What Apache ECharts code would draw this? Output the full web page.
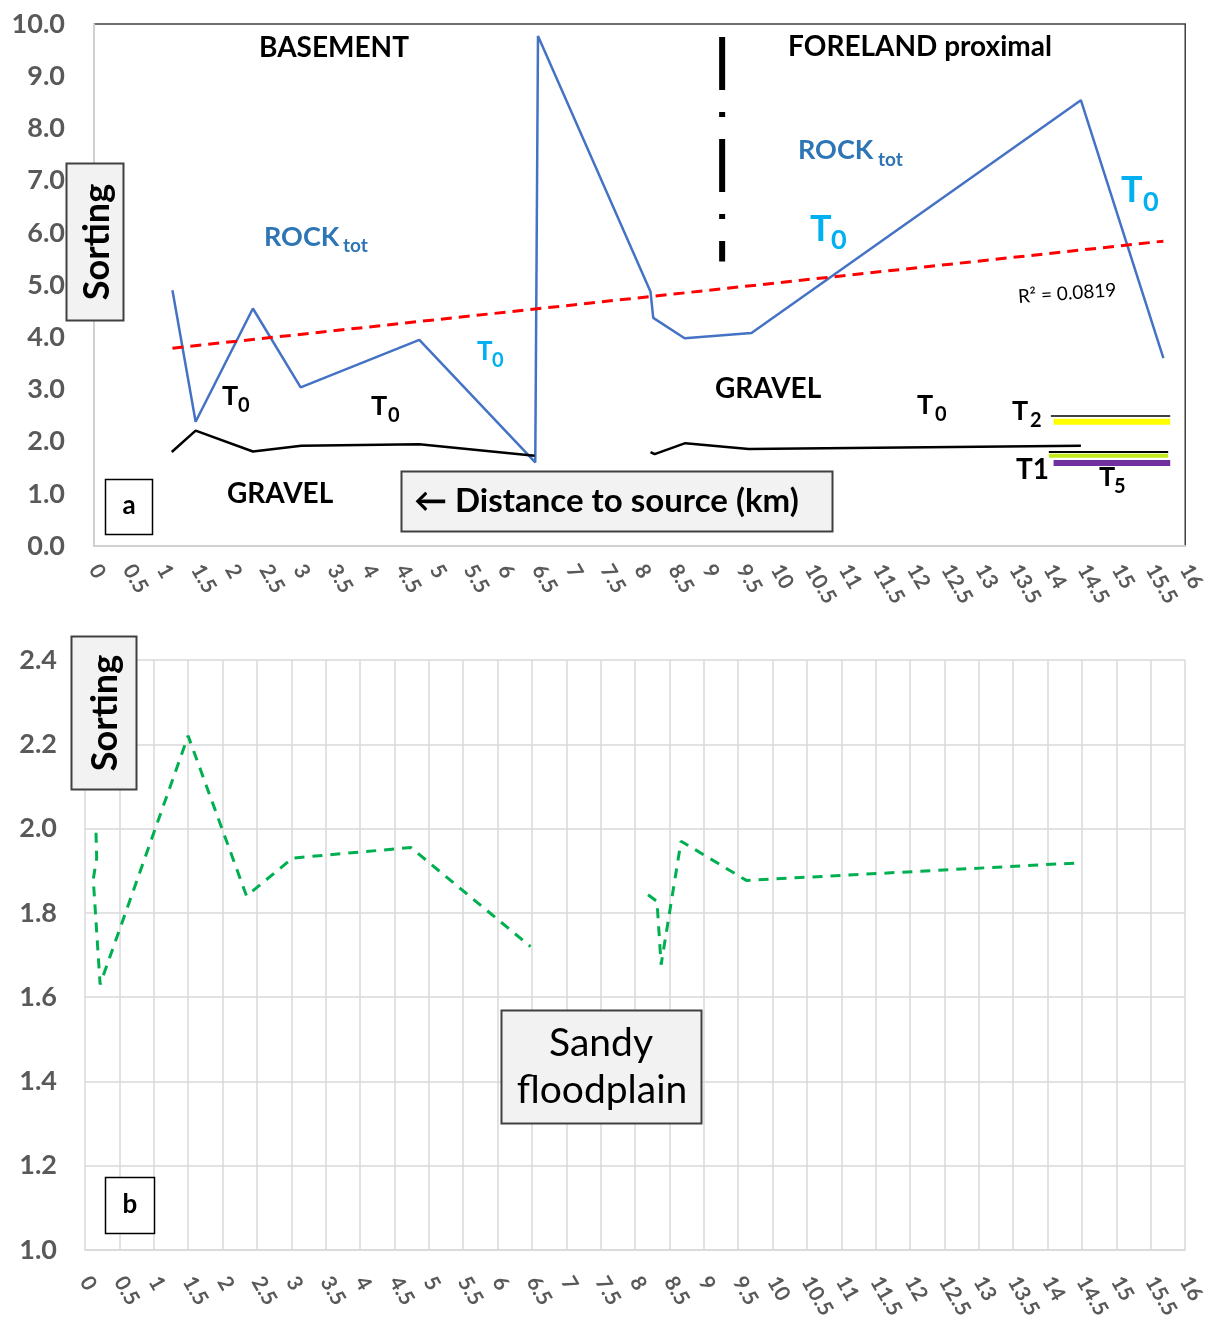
<!DOCTYPE html>
<html>
<head>
<meta charset="utf-8">
<script src="https://cdn.jsdelivr.net/npm/echarts@6/dist/echarts.min.js"></script>
<style>
html,body{margin:0;padding:0;background:#fff;}
#chart{width:1208px;height:1336px;}
</style>
</head>
<body>
<div id="chart"></div>
<script>
// ---------- DATA ----------
// Panel a: ROCK tot sorting (blue line)
const rockX = [1.15, 1.49, 2.33, 3.03, 4.77, 6.47, 6.51, 8.16, 8.20, 8.66, 9.64, 14.47, 15.68];
const rockY = [4.90, 2.38, 4.55, 3.04, 3.95, 1.60, 9.77, 4.87, 4.37, 3.98, 4.08, 8.54, 3.60];
// Panel a: GRAVEL sorting (black line), two segments
const gravelAX = [1.14, 1.49, 2.33, 3.04, 4.77, 6.46];
const gravelAY = [1.80, 2.21, 1.81, 1.92, 1.95, 1.73];
const gravelBX = [8.16, 8.22, 8.67, 9.60, 14.47];
const gravelBY = [1.80, 1.76, 1.97, 1.86, 1.92];
// Panel a: linear trend of ROCK tot (end points)
const trendX = [1.15, 15.68];
const trendY = [3.79, 5.84];
// Panel a: BASEMENT / FORELAND divider
const dividerX = [9.21, 9.21];
const dividerY = [9.75, 5.45];
// Panel a: terrace level bars (T2, T1, T5)
const terraceX0 = [14.03, 14.07, 14.00, 14.00, 14.07];
const terraceX1 = [15.78, 15.78, 15.75, 15.75, 15.78];
const terraceY  = [2.49, 2.38, 1.80, 1.73, 1.59];
// Panel b: Sandy floodplain sorting (green dashed), two segments
const sandAX = [0.16, 0.17, 0.12, 0.22, 1.50, 2.35, 3.02, 4.74, 6.48];
const sandAY = [1.99, 1.93, 1.88, 1.63, 2.22, 1.84, 1.93, 1.955, 1.72];
const sandBX = [8.19, 8.32, 8.38, 8.67, 9.62, 14.39];
const sandBY = [1.843, 1.827, 1.677, 1.97, 1.877, 1.918];
// Axes
const xMin = 0, xMax = 16, xStep = 0.5;
const yTopMin = 0, yTopMax = 10, yTopStep = 1;
const yBotMin = 1.0, yBotMax = 2.4, yBotStep = 0.2;

// ---------- helpers ----------
const zip = (xs, ys) => xs.map((x, i) => [x, ys[i]]);
const FAM = 'Lato, "Open Sans", "DejaVu Sans", sans-serif';
function txt(x, y, s, size, o) {
  o = o || {};
  return {
    type: 'text', x: x, y: y, z: 200, rotation: o.rot || 0,
    style: {
      text: s, fill: o.color || '#000',
      font: (o.weight || 'bold') + ' ' + size + 'px ' + FAM,
      align: o.align || 'left', textAlign: o.align || 'left',
      verticalAlign: 'middle', textVerticalAlign: 'middle'
    }
  };
}
function box(x, y, w, h, fill, stroke, lw) {
  return { type: 'rect', z: 150, shape: { x: x, y: y, width: w, height: h },
    style: { fill: fill, stroke: stroke, lineWidth: lw } };
}
const BLUE_T = '#00B0F0', BLUE_R = '#2E75B6';

const graphics = [
  // titles
  txt(334, 48, 'BASEMENT', 28, { align: 'center' }),
  txt(920, 47, 'FORELAND proximal', 28, { align: 'center' }),
  // ROCK tot labels
  txt(264, 237, 'ROCK', 27, { color: BLUE_R }),
  txt(343, 246, 'tot', 19, { color: BLUE_R }),
  txt(798, 150, 'ROCK', 27, { color: BLUE_R }),
  txt(878, 160, 'tot', 19, { color: BLUE_R }),
  // light blue T0
  txt(477, 352, 'T', 26, { color: BLUE_T }), txt(492, 361, '0', 20, { color: BLUE_T }),
  txt(810, 229, 'T', 36, { color: BLUE_T }), txt(831, 240, '0', 27, { color: BLUE_T }),
  txt(1121, 190, 'T', 36, { color: BLUE_T }), txt(1143, 202, '0', 27, { color: BLUE_T }),
  // black T labels
  txt(222, 396, 'T', 27), txt(238, 406, '0', 20),
  txt(371, 406, 'T', 27), txt(388, 416, '0', 20),
  txt(917, 405, 'T', 27), txt(935, 415, '0', 20),
  txt(1012, 411, 'T', 27), txt(1030, 421, '2', 20),
  txt(1016, 470, 'T1', 28),
  txt(1099, 477, 'T', 27), txt(1114, 487, '5', 20),
  // GRAVEL
  txt(227, 494, 'GRAVEL', 28),
  txt(715, 389, 'GRAVEL', 28),
  // R2
  txt(1018, 297, 'R\u00b2 = 0.0819', 19, { weight: 'normal', rot: 0.07 }),
  // a box
  box(105.5, 479.5, 47, 55, '#ffffff', '#000000', 1.5),
  txt(129, 506, 'a', 26, { align: 'center' }),
  // Distance box
  box(401.5, 471.5, 431, 60, '#f2f2f2', '#404040', 2),
  txt(414, 501, '\u2190 Distance to source (km)', 33),
  // Sorting box (top)
  box(66.5, 163.5, 57, 157, '#f2f2f2', '#404040', 2),
  txt(97, 242, 'Sorting', 36, { align: 'center', rot: Math.PI / 2 }),
  // Sorting box (bottom)
  box(71.5, 636.5, 65, 153, '#f2f2f2', '#404040', 2),
  txt(105, 713, 'Sorting', 36, { align: 'center', rot: Math.PI / 2 }),
  // Sandy floodplain box
  box(501.5, 1010.5, 200, 113, '#f2f2f2', '#404040', 2),
  txt(601, 1043, 'Sandy', 39, { align: 'center', weight: 'normal' }),
  txt(602, 1090, 'floodplain', 39, { align: 'center', weight: 'normal' }),
  // b box
  box(105.5, 1177.5, 49, 56, '#ffffff', '#000000', 1.5),
  txt(130, 1205, 'b', 26, { align: 'center' })
];

const terraceStyles = [
  { color: '#000000', width: 1.5 },
  { color: '#FFFF00', width: 6 },
  { color: '#000000', width: 2 },
  { color: '#C3E81E', width: 4 },
  { color: '#7030A0', width: 6 }
];

const labelX = { color: '#595959', fontWeight: 'bold', fontSize: 21, fontFamily: FAM, rotate: -60 };
const labelY = { color: '#595959', fontWeight: 'bold', fontSize: 27, fontFamily: FAM, formatter: v => v.toFixed(1) };

const series = [
  { type: 'line', xAxisIndex: 0, yAxisIndex: 0, data: zip(rockX, rockY), symbol: 'none',
    lineStyle: { color: '#4472C4', width: 2.5 }, z: 3 },
  { type: 'line', xAxisIndex: 0, yAxisIndex: 0, data: zip(gravelAX, gravelAY), symbol: 'none',
    lineStyle: { color: '#000', width: 2.5 }, z: 3 },
  { type: 'line', xAxisIndex: 0, yAxisIndex: 0, data: zip(gravelBX, gravelBY), symbol: 'none',
    lineStyle: { color: '#000', width: 2.5 }, z: 3 },
  { type: 'line', xAxisIndex: 0, yAxisIndex: 0, data: zip(trendX, trendY), symbol: 'none',
    lineStyle: { color: '#FF0000', width: 3, type: [11, 7] }, z: 4 },
  { type: 'line', xAxisIndex: 0, yAxisIndex: 0, data: zip(dividerX, dividerY), symbol: 'none',
    lineStyle: { color: '#000', width: 6, type: [53, 22, 5, 22], cap: 'butt' }, z: 4 },
  ...terraceY.map((y, i) => ({
    type: 'line', xAxisIndex: 0, yAxisIndex: 0, symbol: 'none',
    data: [[terraceX0[i], y], [terraceX1[i], y]],
    lineStyle: terraceStyles[i], z: 5
  })),
  { type: 'line', xAxisIndex: 1, yAxisIndex: 1, data: zip(sandAX, sandAY), symbol: 'none',
    lineStyle: { color: '#00B050', width: 3, type: [10, 8] }, z: 3 },
  { type: 'line', xAxisIndex: 1, yAxisIndex: 1, data: zip(sandBX, sandBY), symbol: 'none',
    lineStyle: { color: '#00B050', width: 3, type: [10, 8] }, z: 3 }
];

const chart = echarts.init(document.getElementById('chart'), null, { renderer: 'canvas' });
chart.setOption({
  animation: false,
  backgroundColor: '#ffffff',
  grid: [
    { left: 94, top: 24, width: 1096, height: 522, show: true, borderColor: '#404040', borderWidth: 1.5, backgroundColor: 'transparent' },
    { left: 85, top: 660, width: 1100, height: 590 }
  ],
  xAxis: [
    { gridIndex: 0, type: 'value', min: xMin, max: xMax, interval: xStep,
      axisLine: { show: true, onZero: false, lineStyle: { color: '#d0d0d0', width: 2 } },
      axisTick: { show: false }, splitLine: { show: false },
      axisLabel: Object.assign({ margin: 20 }, labelX) },
    { gridIndex: 1, type: 'value', min: xMin, max: xMax, interval: xStep,
      axisLine: { show: true, onZero: false, lineStyle: { color: '#d9d9d9', width: 1.5 } },
      axisTick: { show: false }, splitLine: { show: true, lineStyle: { color: '#d9d9d9', width: 1.5 } },
      axisLabel: Object.assign({ margin: 28 }, labelX) }
  ],
  yAxis: [
    { gridIndex: 0, type: 'value', min: yTopMin, max: yTopMax, interval: yTopStep,
      axisLine: { show: true, onZero: false, lineStyle: { color: '#d0d0d0', width: 2 } },
      axisTick: { show: false }, splitLine: { show: false },
      axisLabel: Object.assign({ margin: 29 }, labelY) },
    { gridIndex: 1, type: 'value', min: yBotMin, max: yBotMax, interval: yBotStep,
      axisLine: { show: false }, axisTick: { show: false },
      splitLine: { show: true, lineStyle: { color: '#d9d9d9', width: 1.5 } },
      axisLabel: Object.assign({ margin: 28 }, labelY) }
  ],
  series: series,
  graphic: graphics
});
</script>
</body>
</html>
